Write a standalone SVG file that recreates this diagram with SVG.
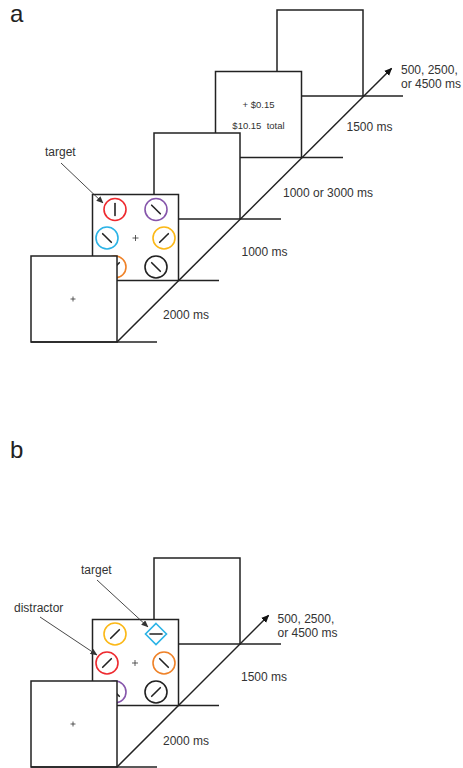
<svg xmlns="http://www.w3.org/2000/svg" width="463" height="768" viewBox="0 0 463 768">
<style>
.box{fill:#fff;stroke:#222;stroke-width:1.5}
.ln{fill:none;stroke:#222;stroke-width:1.5}
.t{font-family:"Liberation Sans",Arial,sans-serif;font-size:12px;fill:#333}
.s{font-family:"Liberation Sans",Arial,sans-serif;font-size:9.5px;fill:#333;text-anchor:middle}
.p{font-family:"Liberation Sans",Arial,sans-serif;font-size:24px;fill:#222}
.fx{stroke:#333;stroke-width:0.8}
.ring{fill:none;stroke-width:1.6}
.bar{stroke:#222;stroke-width:1.6;stroke-linecap:round}
.ptr{fill:none;stroke:#333;stroke-width:0.9}
</style>
<defs>
<marker id="ah" markerWidth="8" markerHeight="8" refX="7" refY="4" orient="auto" markerUnits="userSpaceOnUse">
<path d="M0,0.5 L8,4 L0,7.5 Z" fill="#111"/>
</marker>
<marker id="ph" markerWidth="7" markerHeight="6" refX="6.5" refY="3" orient="auto" markerUnits="userSpaceOnUse">
<path d="M0,0 L7,3 L0,6 Z" fill="#333"/>
</marker>
</defs>

<text class="p" x="10" y="22">a</text>
<text class="p" x="10" y="458">b</text>

<!-- Panel a -->
<g id="a-box5">
<rect class="box" x="277" y="10" width="86" height="86"/>
<line class="ln" x1="363" y1="96" x2="403" y2="96"/>
</g>
<g id="a-box4">
<rect class="box" x="215.5" y="71.5" width="86" height="86"/>
<line class="ln" x1="301.5" y1="157.5" x2="343" y2="157.5"/>
<text class="s" x="258.5" y="108">+  $0.15</text>
<text class="s" x="258.5" y="129" xml:space="preserve">$10.15  total</text>
</g>
<g id="a-box3">
<rect class="box" x="154" y="133" width="86" height="86"/>
<line class="ln" x1="240" y1="219" x2="281" y2="219"/>
</g>
<g id="a-box2">
<rect class="box" x="92.5" y="194.5" width="86" height="86"/>
<line class="ln" x1="178.5" y1="280.5" x2="219" y2="280.5"/>
<g id="a-red"><circle class="ring" cx="115" cy="209.5" r="11" stroke="#ee2a2f"/><line class="bar" x1="115" y1="203.5" x2="115" y2="215.5"/></g>
<g id="a-purple"><circle class="ring" cx="156" cy="209.5" r="11" stroke="#8656ab"/><line class="bar" x1="151.7" y1="205.2" x2="160.3" y2="213.8"/></g>
<g id="a-cyan"><circle class="ring" cx="107" cy="238" r="11" stroke="#2bb3e6"/><line class="bar" x1="102.7" y1="233.7" x2="111.3" y2="242.3"/></g>
<g id="a-yellow"><circle class="ring" cx="164" cy="238" r="11" stroke="#fbb817"/><line class="bar" x1="159.7" y1="242.3" x2="168.3" y2="233.7"/></g>
<g id="a-orange"><circle class="ring" cx="115" cy="267" r="11" stroke="#ef8228"/><line class="bar" x1="110.7" y1="271.3" x2="119.3" y2="262.7"/></g>
<g id="a-black"><circle class="ring" cx="156" cy="267" r="11" stroke="#222"/><line class="bar" x1="151.7" y1="262.7" x2="160.3" y2="271.3"/></g>
<g id="a-fix2"><line class="fx" x1="132.5" y1="238" x2="138.5" y2="238"/><line class="fx" x1="135.5" y1="235" x2="135.5" y2="241"/></g>
</g>
<g id="a-box1">
<rect class="box" x="31" y="256" width="86" height="86"/>
<line class="ln" x1="31" y1="342" x2="157" y2="342"/>
<line class="fx" x1="70.5" y1="299" x2="75.5" y2="299"/><line class="fx" x1="73" y1="296.5" x2="73" y2="301.5"/>
</g>

<!-- Panel b -->
<g id="b-box3">
<rect class="box" x="154" y="558" width="86" height="86"/>
<line class="ln" x1="240" y1="644" x2="281" y2="644"/>
</g>
<g id="b-box2">
<rect class="box" x="92.5" y="619.5" width="86" height="86"/>
<line class="ln" x1="178.5" y1="705.5" x2="219" y2="705.5"/>
<g id="b-yellow"><circle class="ring" cx="115" cy="634" r="11" stroke="#fbb817"/><line class="bar" x1="110.7" y1="638.3" x2="119.3" y2="629.7"/></g>
<g id="b-cyan"><path class="ring" d="M156,623.5 L166.5,634 L156,644.5 L145.5,634 Z" stroke="#2bb3e6"/><line class="bar" x1="150" y1="634" x2="162" y2="634"/></g>
<g id="b-red"><circle class="ring" cx="107" cy="663" r="11" stroke="#ee2a2f"/><line class="bar" x1="102.7" y1="667.3" x2="111.3" y2="658.7"/></g>
<g id="b-orange"><circle class="ring" cx="164" cy="663" r="11" stroke="#ef8228"/><line class="bar" x1="159.7" y1="658.7" x2="168.3" y2="667.3"/></g>
<g id="b-purple"><circle class="ring" cx="115" cy="692" r="11" stroke="#8656ab"/><line class="bar" x1="110.7" y1="687.7" x2="119.3" y2="696.3"/></g>
<g id="b-black"><circle class="ring" cx="156" cy="692" r="11" stroke="#222"/><line class="bar" x1="151.7" y1="696.3" x2="160.3" y2="687.7"/></g>
<g id="b-fix2"><line class="fx" x1="132" y1="663" x2="138" y2="663"/><line class="fx" x1="135" y1="660" x2="135" y2="666"/></g>
</g>
<g id="b-box1">
<rect class="box" x="31" y="681" width="86" height="86"/>
<line class="ln" x1="31" y1="767" x2="157" y2="767"/>
<line class="fx" x1="70.5" y1="724" x2="75.5" y2="724"/><line class="fx" x1="73" y1="721.5" x2="73" y2="726.5"/>
</g>

<!-- Connectors -->
<g id="connectors">
<line class="ln" x1="117" y1="342" x2="391.5" y2="68.5" marker-end="url(#ah)"/>
<line class="ln" x1="117" y1="767" x2="268.5" y2="615.5" marker-end="url(#ah)"/>
<line class="ptr" x1="61" y1="163" x2="103" y2="203" marker-end="url(#ph)"/>
<line class="ptr" x1="97" y1="580" x2="148" y2="627" marker-end="url(#ph)"/>
<line class="ptr" x1="40" y1="617" x2="97" y2="655" marker-end="url(#ph)"/>
</g>

<!-- Labels -->
<g id="labels">
<text class="t" x="45" y="156">target</text>
<text class="t" x="163" y="319">2000 ms</text>
<text class="t" x="241.5" y="256">1000 ms</text>
<text class="t" x="283" y="196.5">1000 or 3000 ms</text>
<text class="t" x="346.5" y="131">1500 ms</text>
<text class="t" x="401" y="74">500, 2500,</text>
<text class="t" x="401" y="88">or 4500 ms</text>
<text class="t" x="81" y="574">target</text>
<text class="t" x="14" y="611.5">distractor</text>
<text class="t" x="163" y="745">2000 ms</text>
<text class="t" x="241" y="681">1500 ms</text>
<text class="t" x="277.5" y="622.5">500, 2500,</text>
<text class="t" x="277.5" y="636.5">or 4500 ms</text>
</g>
</svg>
